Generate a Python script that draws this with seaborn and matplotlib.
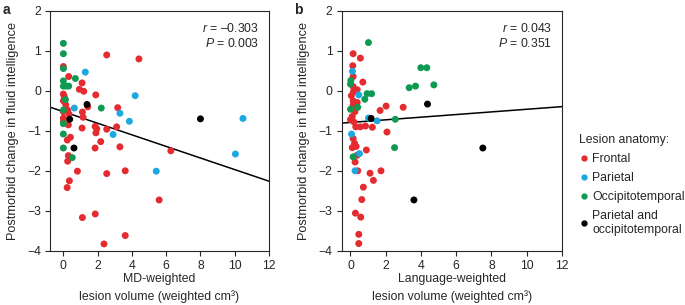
import numpy as np
import pandas as pd
import matplotlib
matplotlib.use("Agg")
import matplotlib.pyplot as plt
import seaborn as sns

# ===================== Data =====================
groups = ['Frontal', 'Parietal', 'Occipitotemporal', 'Parietal and\noccipitotemporal']
palette = {'Frontal': '#E32B30', 'Parietal': '#1CA8E0',
           'Occipitotemporal': '#0E9A50', 'Parietal and\noccipitotemporal': '#000000'}

# panel a: MD-weighted lesion volume
a_frontal_x = [0.0, 2.53, 4.41, 0.31, 1.09, 0.93, 1.19, 0.0, 0.05, 1.89, 0.0, 0.14, 1.42, 3.17,
               0.25, 1.11, 0.33, 1.15, 0.0, 0.0, 0.29, 1.09, 1.85, 1.95, 2.53, 3.11, 1.90, 0.41,
               0.23, 2.18, 1.85, 3.30, 6.27, 0.29, 0.25, 0.82, 2.53, 3.61, 0.35, 0.22, 5.59,
               1.86, 1.11, 3.61, 2.37, 0.0]
a_frontal_y = [0.61, 0.90, 0.80, 0.36, 0.20, 0.04, -0.01, -0.08, -0.14, -0.10, -0.25, -0.35,
               -0.40, -0.42, -0.48, -0.53, -0.58, -0.66, -0.68, -0.77, -0.85, -0.93, -0.89,
               -0.95, -0.96, -0.90, -1.05, -1.16, -1.23, -1.27, -1.43, -1.40, -1.50, -1.62,
               -1.76, -2.01, -2.07, -2.00, -2.25, -2.42, -2.73, -3.08, -3.17, -3.62, -3.83, -0.52]
a_parietal_x = [1.28, 4.19, 0.64, 3.30, 3.85, 2.90, 5.42, 10.48, 10.04]
a_parietal_y = [0.47, -0.12, -0.43, -0.56, -0.76, -1.09, -2.01, -0.69, -1.58]
a_occ_x = [0.0, 0.0, 0.0, 0.70, 0.0, 0.0, 0.14, 0.31, 0.12, 2.21, 0.0, 0.0, 0.0, 0.0, 0.52]
a_occ_y = [1.19, 0.93, 0.56, 0.31, 0.25, 0.12, 0.12, 0.12, -0.22, -0.43, -0.48, -0.82,
           -1.08, -1.43, -1.67]
a_both_x = [1.38, 0.37, 0.62, 8.0]
a_both_y = [-0.34, -0.71, -1.43, -0.70]
a_fit = [-0.52, -0.145]  # intercept, slope
a_stats = ['\u20130.303', '0.003']

# panel b: language-weighted lesion volume
b_frontal_x = [0.15, 0.56, 0.13, 0.15, 0.70, 0.15, 0.38, 0.17, 0.05, 0.15, 0.38, 2.02, 1.68,
               2.99, 0.15, 0.25, 0.10, 0.0, 0.20, 0.30, 0.56, 0.85, 1.24, 2.07, 0.15, 0.23,
               0.10, 0.32, 0.90, 0.38, 0.26, 0.41, 1.11, 1.73, 1.30, 0.73, 0.64, 0.28, 0.58,
               0.47, 0.47]
b_frontal_y = [0.93, 0.82, 0.63, 0.36, 0.22, 0.11, 0.03, -0.02, -0.12, -0.25, -0.29, -0.38,
               -0.49, -0.41, -0.36, -0.52, -0.64, -0.72, -0.78, -0.90, -0.90, -0.88, -0.91,
               -1.03, -1.19, -1.31, -1.42, -1.39, -1.48, -1.61, -1.78, -2.00, -2.06, -2.00,
               -2.24, -2.41, -2.72, -3.06, -3.16, -3.59, -3.82]
b_parietal_x = [0.11, 0.47, 1.02, 1.51, 0.06, 0.51, 0.26]
b_parietal_y = [0.49, -0.10, -0.68, -0.75, -1.08, -1.57, -2.00]
b_occ_x = [1.02, 0.02, 0.0, 0.94, 1.20, 0.81, 0.41, 0.0, 3.33, 3.69, 3.99, 4.33, 4.73,
           2.54, 2.50, 0.15]
b_occ_y = [1.21, 0.26, 0.17, -0.07, -0.07, -0.21, -0.41, -0.46, 0.08, 0.12, 0.58, 0.58,
           0.15, -0.71, -1.42, -1.65]
b_both_x = [1.17, 4.37, 7.51, 3.60]
b_both_y = [-0.69, -0.33, -1.43, -2.73]
b_fit = [-0.79, 0.033]
b_stats = ['0.043', '0.351']


def make_df(fx, fy, px, py, ox, oy, bx, by):
    parts = []
    for g, xs, ys in zip(groups, [fx, px, ox, bx], [fy, py, oy, by]):
        parts.append(pd.DataFrame({'x': xs, 'y': ys, 'Lesion': g}))
    return pd.concat(parts, ignore_index=True)


df_a = make_df(a_frontal_x, a_frontal_y, a_parietal_x, a_parietal_y,
               a_occ_x, a_occ_y, a_both_x, a_both_y)
df_b = make_df(b_frontal_x, b_frontal_y, b_parietal_x, b_parietal_y,
               b_occ_x, b_occ_y, b_both_x, b_both_y)

# ===================== Style =====================
FS = 8.8
sns.set_style('ticks')
plt.rcParams.update({
    'font.family': ['Liberation Sans', 'DejaVu Sans'],
    'font.size': FS,
    'mathtext.fontset': 'custom',
    'mathtext.it': 'Liberation Sans:italic',
    'mathtext.rm': 'Liberation Sans',
    'axes.linewidth': 0.8,
})

fig = plt.figure(figsize=(6.85, 3.05), dpi=100)
ax_a = fig.add_axes([0.073, 0.178, 0.3197, 0.786])
ax_b = fig.add_axes([0.4988, 0.178, 0.3216, 0.786])

panels = [
    (ax_a, df_a, a_fit, a_stats, (-0.78, 12), 'MD-weighted\nlesion volume (weighted cm\u00b3)', 'a'),
    (ax_b, df_b, b_fit, b_stats, (-0.5, 12), 'Language-weighted\nlesion volume (weighted cm\u00b3)', 'b'),
]

for ax, d, fit, stats, xlim, xlabel, tag in panels:
    sns.scatterplot(data=d, x='x', y='y', hue='Lesion', hue_order=groups,
                    palette=palette, s=25, linewidth=0, legend=False, ax=ax, zorder=3)
    xs = np.array(xlim)
    ax.plot(xs, fit[0] + fit[1] * xs, color='black', lw=1.1, zorder=2)
    ax.set_xlim(*xlim)
    ax.set_ylim(-4, 2)
    ax.set_xticks(np.arange(0, 13, 2))
    ax.set_yticks(np.arange(-4, 3, 1))
    ax.set_yticklabels([f"{v}".replace('-', '\u2212') for v in range(-4, 3)])
    ax.tick_params(direction='out', length=3.5, width=0.8, labelsize=FS, pad=3)
    ax.set_xlabel(xlabel, fontsize=FS, linespacing=1.5, labelpad=1)
    ax.set_ylabel('Postmorbid change in fluid intelligence', fontsize=9.2, labelpad=6)
    ax.text(0.955, 0.955, f'$r$ = {stats[0]}', transform=ax.transAxes,
            ha='right', va='top', fontsize=FS)
    ax.text(0.955, 0.89, f'$P$ = {stats[1]}', transform=ax.transAxes,
            ha='right', va='top', fontsize=FS)
    ax.text(-0.215, 1.035, tag, transform=ax.transAxes,
            fontweight='bold', fontsize=10, ha='left', va='top')

# legend
handles = [plt.Line2D([], [], marker='o', ls='', color=palette[g], markersize=3.5)
           for g in groups]
leg = fig.legend(handles, groups, title='Lesion anatomy:', loc='upper left',
                 bbox_to_anchor=(0.834, 0.585), frameon=False, fontsize=FS,
                 title_fontsize=FS, handletextpad=0.2, handlelength=0.9,
                 labelspacing=0.58, alignment='left', borderaxespad=0.2)

fig.savefig('out.png', dpi=100, facecolor='white')
